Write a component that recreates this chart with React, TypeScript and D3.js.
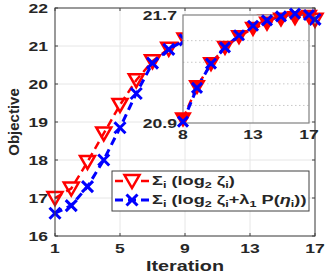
import React from "react";
import * as d3 from "d3";

const iterations = [1, 2, 3, 4, 5, 6, 7, 8, 9, 10, 11, 12, 13, 14, 15, 16, 17];
const objLog = [17.0, 17.25, 17.95, 18.7, 19.45, 20.1, 20.6, 20.93, 21.17, 21.34, 21.46, 21.54, 21.6, 21.64, 21.67, 21.68, 21.69];
const objLogPen = [16.6, 16.8, 17.3, 18.0, 18.85, 19.75, 20.55, 20.91, 21.16, 21.34, 21.46, 21.55, 21.62, 21.66, 21.69, 21.71, 21.7];
const mainXTicks = [1, 5, 9, 13, 17];
const mainYTicks = [16, 17, 18, 19, 20, 21, 22];
const insetXTicks = [8, 13, 17];
const insetYTicks = [20.9, 21.7];
const insetMinorY = [21.03, 21.19, 21.35, 21.51];
const insetFrom = 8;

const W = 327, H = 273;
const FONT = "'Liberation Sans', Arial, Helvetica, sans-serif";
const SX = 1.35;
const RED = "#ff0000", BLUE = "#0000ff", TXT = "#262626";

function ST({ x, y, size = 13, anchor = "middle", sx = SX, children }: any) {
  return (
    <text transform={`translate(${x},${y}) scale(${sx},1)`} textAnchor={anchor}
      fontFamily={FONT} fontWeight="bold" fontSize={size} fill={TXT}>{children}</text>
  );
}

function Tri({ x, y, fill = "none", s = 1 }: any) {
  const p = `M${x - 7.5 * s},${y - 6 * s}L${x + 7.5 * s},${y - 6 * s}L${x},${y + 7 * s}Z`;
  return <path d={p} fill={fill} stroke={RED} strokeWidth={2.5} strokeLinejoin="miter" />;
}
function Cross({ x, y, r = 5.5 }: any) {
  return <path d={`M${x - r},${y - r}L${x + r},${y + r}M${x - r},${y + r}L${x + r},${y - r}`} stroke={BLUE} strokeWidth={3} fill="none" />;
}

export default function App() {
  const x = d3.scaleLinear().domain([1, 17]).range([55, 315]);
  const y = d3.scaleLinear().domain([16, 22]).range([236, 8]);
  const ix = d3.scaleLinear().domain([8, 17]).range([183, 309]);
  const iy = d3.scaleLinear().domain([20.9, 21.7]).range([123, 15]);

  const mainLine = (vals: number[]) =>
    d3.line<number>().x((_, i) => x(iterations[i])).y((v) => y(v))(vals) as string;
  const insetIdx = iterations.map((it, i) => i).filter((i) => iterations[i] >= insetFrom);
  const insetLine = (vals: number[]) =>
    d3.line<number>().x((i) => ix(iterations[i])).y((i) => iy(vals[i]))(insetIdx) as string;

  const [x0, x1] = x.range();
  const [y0, y1] = y.range();

  return (
    <svg width={W} height={H} style={{ position: "absolute", left: 0, top: 0 }}>
      <defs>
        <clipPath id="insetClip">
          <rect x={ix(8)} y={iy(21.7)} width={ix(17) - ix(8)} height={iy(20.9) - iy(21.7)} />
        </clipPath>
      </defs>
      <rect width={W} height={H} fill="#fff" />
      {/* main grid */}
      {mainXTicks.map((t) => (
        <line key={"gx" + t} x1={x(t)} x2={x(t)} y1={y1} y2={y0} stroke="#e6e6e6" strokeWidth={1} />
      ))}
      {mainYTicks.map((t) => (
        <line key={"gy" + t} x1={x0} x2={x1} y1={y(t)} y2={y(t)} stroke="#e6e6e6" strokeWidth={1} />
      ))}
      {/* main series */}
      <path d={mainLine(objLog)} fill="none" stroke={RED} strokeWidth={2.5} strokeDasharray="8,5" />
      {objLog.map((v, i) => <Tri key={"rt" + i} x={x(iterations[i])} y={y(v)} />)}
      <path d={mainLine(objLogPen)} fill="none" stroke={BLUE} strokeWidth={3} strokeDasharray="8,5" />
      {objLogPen.map((v, i) => <Cross key={"bc" + i} x={x(iterations[i])} y={y(v)} />)}
      {/* main frame and ticks */}
      <rect x={x0} y={y1} width={x1 - x0} height={y0 - y1} fill="none" stroke="#404040" strokeWidth={1} />
      {mainXTicks.map((t) => (
        <g key={"tx" + t}>
          <line x1={x(t)} x2={x(t)} y1={y0} y2={y0 - 3} stroke="#404040" />
          <line x1={x(t)} x2={x(t)} y1={y1} y2={y1 + 3} stroke="#404040" />
          <ST x={x(t)} y={253}>{t}</ST>
        </g>
      ))}
      {mainYTicks.map((t) => (
        <g key={"ty" + t}>
          <line x1={x0} x2={x0 + 3} y1={y(t)} y2={y(t)} stroke="#404040" />
          <line x1={x1} x2={x1 - 3} y1={y(t)} y2={y(t)} stroke="#404040" />
          <ST x={48} y={y(t) + 4.6} anchor="end">{t}</ST>
        </g>
      ))}
      <ST x={(x0 + x1) / 2} y={271} size={15} sx={1.32}>Iteration</ST>
      <text transform={`translate(19,${(y0 + y1) / 2}) rotate(-90)`} textAnchor="middle"
        fontFamily={FONT} fontWeight="bold" fontSize={15} fill={TXT}>Objective</text>

      {/* inset */}
      <rect x={ix(8)} y={iy(21.7)} width={ix(17) - ix(8)} height={iy(20.9) - iy(21.7)} fill="#fff" />
      {insetMinorY.map((t) => (
        <line key={"iy" + t} x1={ix(8)} x2={ix(17)} y1={iy(t)} y2={iy(t)} stroke="#c8c8c8" strokeWidth={1} strokeDasharray="1.5,2.5" />
      ))}
      <line x1={ix(13)} x2={ix(13)} y1={iy(21.7)} y2={iy(20.9)} stroke="#e0e0e0" strokeWidth={1} />
      <g clipPath="url(#insetClip)">
        <path d={insetLine(objLog)} fill="none" stroke={RED} strokeWidth={2.5} strokeDasharray="8,5" />
        <path d={insetLine(objLogPen)} fill="none" stroke={BLUE} strokeWidth={3} strokeDasharray="8,5" />
      </g>
      <rect x={ix(8)} y={iy(21.7)} width={ix(17) - ix(8)} height={iy(20.9) - iy(21.7)} fill="none" stroke="#808080" strokeWidth={1.2} />
      {insetIdx.map((i) => <Tri key={"irt" + i} x={ix(iterations[i])} y={iy(objLog[i])} fill={RED} s={0.9} />)}
      {insetIdx.map((i) => <Cross key={"ibc" + i} x={ix(iterations[i])} y={iy(objLogPen[i])} r={5} />)}
      {insetXTicks.map((t) => (
        <ST key={"itx" + t} x={ix(t)} y={139}>{t}</ST>
      ))}
      {insetYTicks.map((t) => (
        <ST key={"ity" + t} x={177} y={iy(t) + 4.6} anchor="end">{t.toFixed(1)}</ST>
      ))}

      {/* legend */}
      <rect x={112} y={171} width={197} height={40} fill="#fff" stroke="#404040" strokeWidth={1} />
      <line x1={115} x2={149} y1={181} y2={181} stroke={RED} strokeWidth={2.5} strokeDasharray="8,5" />
      <Tri x={132} y={181} fill="#fff" />
      <line x1={115} x2={149} y1={200} y2={200} stroke={BLUE} strokeWidth={3} strokeDasharray="8,5" />
      <Cross x={132} y={200} />
      <ST x={152} y={185} size={13} anchor="start" sx={1.4}>
        Σ<tspan fontSize={9} dy={3}>i</tspan><tspan dy={-3}> (log</tspan><tspan fontSize={9} dy={3}>2</tspan><tspan dy={-3}> ζ</tspan><tspan fontSize={9} dy={3}>i</tspan><tspan dy={-3}>)</tspan>
      </ST>
      <ST x={152} y={204} size={13} anchor="start" sx={1.4}>
        Σ<tspan fontSize={9} dy={3}>i</tspan><tspan dy={-3}> (log</tspan><tspan fontSize={9} dy={3}>2</tspan><tspan dy={-3}> ζ</tspan><tspan fontSize={9} dy={3}>i</tspan><tspan dy={-3}>+λ</tspan><tspan fontSize={9} dy={3}>1</tspan><tspan dy={-3}> P(</tspan><tspan fontStyle="italic">η</tspan><tspan fontSize={9} dy={3}>i</tspan><tspan dy={-3}>))</tspan>
      </ST>
    </svg>
  );
}
